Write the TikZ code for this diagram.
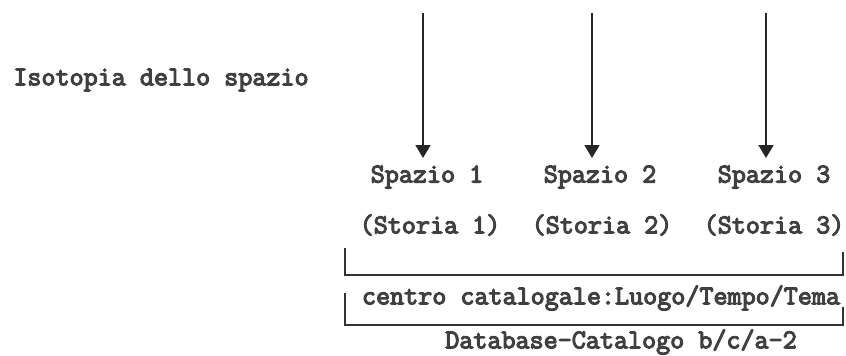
\documentclass[tikz,border=0pt]{standalone}
\usepackage{fontspec}
\setmonofont{Latin Modern Mono}[FakeBold=4]
\usetikzlibrary{arrows.meta}
\begin{document}
\begin{tikzpicture}[x=1pt,y=-1pt,
  lbl/.style={inner sep=0pt, font=\fontsize{27.3}{30}\selectfont\ttfamily\bfseries, text=black!75, anchor=center},
  arr/.style={line width=1.8pt, black!85, -{Triangle[width=15pt,length=13pt]}},
  brk/.style={line width=1.6pt, black!80}]
\useasboundingbox (0,0) rectangle (846,356);

% left caption
\node[lbl] (iso) at (161,80) {Isotopia dello spazio};

% the three spaces and their stories
\node[lbl] (s1) at (427,177) {Spazio 1};
\node[lbl] (s2) at (600,177) {Spazio 2};
\node[lbl] (s3) at (774,177) {Spazio 3};
\node[lbl] (t1) at (430,225) {(Storia 1)};
\node[lbl] (t2) at (602,225) {(Storia 2)};
\node[lbl] (t3) at (774,225) {(Storia 3)};

% incoming arrows
\coordinate (a1) at (423,13);
\coordinate (a2) at (592,13);
\coordinate (a3) at (766,13);
\coordinate (b1) at (423,158);
\coordinate (b2) at (592,158);
\coordinate (b3) at (766,158);
\draw[arr] (a1) -- (b1);
\draw[arr] (a2) -- (b2);
\draw[arr] (a3) -- (b3);

% brackets
\coordinate (p1) at (345,248);
\coordinate (p2) at (345,275);
\coordinate (p3) at (843,275);
\coordinate (p4) at (843,252);
\draw[brk] (p1) -- (p2) -- (p3) -- (p4);

\node[lbl] (cc) at (601,298) {centro catalogale:Luogo/Tempo/Tema};

\coordinate (q1) at (345,293);
\coordinate (q2) at (345,325);
\coordinate (q3) at (843,325);
\coordinate (q4) at (843,307);
\draw[brk] (q1) -- (q2) -- (q3) -- (q4);

\node[lbl] (db) at (621,342) {Database-Catalogo b/c/a-2};
\end{tikzpicture}
\end{document}
